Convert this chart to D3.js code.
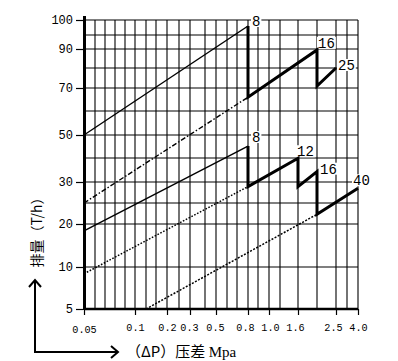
<!DOCTYPE html>
<html><head><meta charset="utf-8">
<script src="https://cdn.jsdelivr.net/npm/d3@7"></script>
<style>body{margin:0;background:#fff}svg{display:block}</style>
</head><body>
<script>
// ---- grid / tick values ----
const gridX = [0.05,0.06,0.07,0.08,0.09,0.1,0.13,0.16,0.2,0.25,0.3,0.4,0.5,0.6,0.7,0.8,0.9,1.0,1.2,1.6,2.0,2.5,3.0,4.0];
const gridY = [5,10,20,25,30,40,50,60,70,80,90,95,100];
const xTickVals = [0.05,0.1,0.2,0.3,0.5,0.8,1.0,1.6,2.5,4.0];
const xTickLabels = ["0.05","0.1","0.2","0.3","0.5","0.8","1.0","1.6","2.5","4.0"];
const yTickVals = [100,90,70,50,30,20,10,5];

// ---- series (ΔP MPa, T/h) ----
const upperThin  = [[0.05,50],[0.8,98]];
const upperDash  = [[0.05,25],[0.8,66]];
const upperThick = [[0.8,98],[0.8,66],[2.0,89.5],[2.0,71],[2.5,80]];
const lowerThin  = [[0.05,18.4],[0.8,45.2]];
const lowerDot   = [[0.05,9.2],[0.8,28.9]];
const lowerThick = [[0.8,45.2],[0.8,28.9],[1.6,39.9],[1.6,28.9],[2.0,34.3],[2.0,22.3],[4.0,28.5]];
const bottomDot  = [[0.13,5],[2.0,22.3]];
const sizeLabels = ["8","16","25","8","12","16","40"];
const sizeAt     = [[0.8,98],[2.0,89.5],[2.5,80],[0.8,45.2],[1.6,39.9],[2.0,34.3],[4.0,28.5]];

// ---- layout ----
const W = 398, H = 361;
const svg = d3.select("body").append("svg").attr("width", W).attr("height", H);

// hand-drawn (non-uniform) axes -> piecewise linear scales
const x = d3.scaleLinear().domain(gridX)
  .range([84,95,105,115,125,135,146,156,167,179,190,205,216,227,237,248,258,269,280,298,317,336,347,358]);
const y = d3.scaleLinear().domain(gridY)
  .range([309,267,224,203,182,158,135,111,88,68,49,35,20]);

const x0 = x(0.05), x1 = x(4.0), yB = y(5), yT = y(100);
const monoFont = "Liberation Mono, DejaVu Sans Mono, monospace";

// grid
const g = svg.append("g").attr("stroke", "#000").attr("stroke-width", 1.1);
g.selectAll("line.v").data(gridX).join("line")
  .attr("x1", d => x(d)).attr("x2", d => x(d)).attr("y1", yT).attr("y2", yB);
g.selectAll("line.h").data(gridY).join("line")
  .attr("x1", x0).attr("x2", x1).attr("y1", d => y(d)).attr("y2", d => y(d));

// axes
const xLabNudge = [[0,2],[0,0],[0,0],[-1,0],[-1,0],[-3,0],[1,0],[-3,0],[-3,0],[0,0]];
const ax = svg.append("g").attr("transform", `translate(0,${yB})`)
  .call(d3.axisBottom(x).tickValues(xTickVals).tickFormat((d,i) => xTickLabels[i]).tickSize(6).tickPadding(9));
ax.select(".domain").remove();
ax.selectAll("line").attr("stroke", "#000").attr("stroke-width", 1.2);
ax.selectAll("text").attr("font-family", monoFont).attr("font-size", 10.2).attr("fill", "#000")
  .attr("dx", (d,i) => xLabNudge[i][0]).attr("transform", (d,i) => `translate(0,${xLabNudge[i][1]})`);

const ay = svg.append("g").attr("transform", `translate(${x0 - 1},0)`)
  .call(d3.axisLeft(y).tickValues(yTickVals).tickSize(7).tickPadding(3));
ay.select(".domain").remove();
ay.selectAll("line").attr("stroke", "#000").attr("stroke-width", 1.2);
ay.selectAll("text").attr("font-family", monoFont).attr("font-size", 12).attr("fill", "#000");

svg.append("line").attr("x1", x0 + 0.5).attr("x2", x0 + 0.5).attr("y1", yT - 4).attr("y2", yB + 1)
  .attr("stroke", "#000").attr("stroke-width", 3);
svg.append("line").attr("x1", x0).attr("x2", x1).attr("y1", yB).attr("y2", yB)
  .attr("stroke", "#000").attr("stroke-width", 2.5);

// label backgrounds (labels sit over the grid)
const labOff = [[4,0],[1,-2],[2,2],[4,-4],[-1,-2],[3,2],[-5,-3]];
svg.selectAll("rect.lb").data(sizeLabels).join("rect")
  .attr("x", (d,i) => x(sizeAt[i][0]) + labOff[i][0] - 1)
  .attr("y", (d,i) => y(sizeAt[i][1]) + labOff[i][1] - 11)
  .attr("width", d => d.length * 8.4 + 2).attr("height", 12)
  .attr("fill", "#fff");

// series lines
const line = d3.line().x(d => x(d[0])).y(d => y(d[1]));
const series = [
  {d: upperThin,  w: 1.4, dash: null},
  {d: upperDash,  w: 1.4, dash: "5,2,1.5,2"},
  {d: lowerThin,  w: 1.4, dash: null},
  {d: lowerDot,   w: 1.5, dash: "1.6,1.6"},
  {d: bottomDot,  w: 1.5, dash: "2,1.5"},
  {d: upperThick, w: 3,   dash: null},
  {d: lowerThick, w: 3,   dash: null}
];
svg.selectAll("path.s").data(series).join("path")
  .attr("d", s => line(s.d)).attr("fill", "none").attr("stroke", "#000")
  .attr("stroke-width", s => s.w).attr("stroke-dasharray", s => s.dash)
  .attr("stroke-linejoin", "miter");

// size labels
svg.selectAll("text.sl").data(sizeLabels).join("text")
  .attr("x", (d,i) => x(sizeAt[i][0]) + labOff[i][0])
  .attr("y", (d,i) => y(sizeAt[i][1]) + labOff[i][1])
  .attr("font-family", monoFont).attr("font-size", 14).attr("fill", "#000")
  .text(d => d);

// axis titles
svg.append("text").attr("transform", "translate(36,229) rotate(-90)")
  .attr("text-anchor", "middle").attr("dominant-baseline", "central")
  .attr("font-family", "Noto Sans CJK SC, sans-serif").attr("font-size", 14).attr("fill", "#000")
  .text("排量（T/h）");

const xt = svg.append("text").attr("x", 126).attr("y", 357)
  .attr("font-family", "Noto Sans CJK SC, sans-serif").attr("font-size", 15).attr("fill", "#000");
xt.append("tspan").text("（ΔP）压差 ");
xt.append("tspan").attr("font-family", "Liberation Serif, serif").text("Mpa");

// L-shaped arrow
const arr = svg.append("g").attr("fill", "none").attr("stroke", "#000").attr("stroke-width", 2);
arr.append("path").attr("d", "M35,280 L35,352 L118,352");
arr.append("path").attr("d", "M29,287 L35,280 L41,287");
arr.append("path").attr("d", "M111,346 L118,352 L111,358");
</script>
</body></html>
